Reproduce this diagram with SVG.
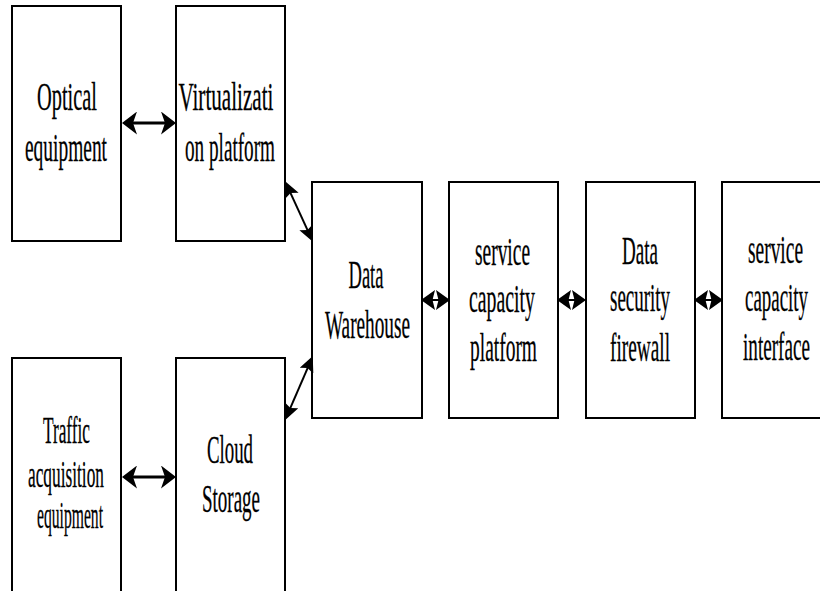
<svg xmlns="http://www.w3.org/2000/svg" width="820" height="591" viewBox="0 0 820 591">
<style>
  .box { fill: #fff; stroke: #000; stroke-width: 2; }
  .t { font-family: 'Liberation Serif', 'DejaVu Serif', 'Times New Roman', serif; font-size: 40px; fill: #000; text-anchor: middle; stroke: #000; stroke-width: 0.3; }
  .dw { font-size: 41px; }
  .bt { font-size: 37px; }
  .lnk { stroke: #000; fill: none; }
  .big { stroke-width: 3; marker-start: url(#ah); marker-end: url(#ah); }
  .sm { stroke-width: 2; marker-start: url(#as); marker-end: url(#as); }
  .dg { stroke-width: 2; marker-start: url(#ad); marker-end: url(#ad); }
</style>
<defs>
  <marker id="ah" viewBox="0 0 15 23" refX="7" refY="11.5" markerWidth="15" markerHeight="23" markerUnits="userSpaceOnUse" orient="auto-start-reverse">
    <path d="M0,0 L15,11.5 L0,23 L4,11.5 z" fill="#000"/>
  </marker>
  <marker id="as" viewBox="0 0 14 20" refX="5" refY="10" markerWidth="14" markerHeight="20" markerUnits="userSpaceOnUse" orient="auto-start-reverse">
    <path d="M0,0 L14,10 L0,20 L2.5,10 z" fill="#000"/>
  </marker>
  <marker id="ad" viewBox="0 0 16 15" refX="6" refY="7.5" markerWidth="16" markerHeight="15" markerUnits="userSpaceOnUse" orient="auto-start-reverse">
    <path d="M0,0 L16,7.5 L0,15 L3,7.5 z" fill="#000"/>
  </marker>
</defs>
<rect width="820" height="591" fill="#fff"/>

<g id="optical-equipment">
  <rect class="box" x="12" y="6" width="109" height="235"/>
  <text class="t" x="67" y="110" textLength="60" lengthAdjust="spacingAndGlyphs">Optical</text>
  <text class="t" x="66" y="161" textLength="82" lengthAdjust="spacingAndGlyphs">equipment</text>
</g>
<g id="virtualization-platform">
  <rect class="box" x="176" y="6" width="109" height="235"/>
  <text class="t" x="226" y="110" textLength="95" lengthAdjust="spacingAndGlyphs">Virtualizati</text>
  <text class="t" x="230" y="161" textLength="90" lengthAdjust="spacingAndGlyphs">on platform</text>
</g>
<g id="data-warehouse">
  <rect class="box" x="312" y="182" width="110" height="236"/>
  <text class="t dw" x="366" y="288" textLength="35" lengthAdjust="spacingAndGlyphs">Data</text>
  <text class="t dw" x="367.5" y="338" textLength="85" lengthAdjust="spacingAndGlyphs">Warehouse</text>
</g>
<g id="service-capacity-platform">
  <rect class="box" x="449" y="182" width="109" height="236"/>
  <text class="t" x="502.5" y="265" textLength="55" lengthAdjust="spacingAndGlyphs">service</text>
  <text class="t" x="502" y="312" textLength="66" lengthAdjust="spacingAndGlyphs">capacity</text>
  <text class="t" x="503.5" y="361" textLength="67" lengthAdjust="spacingAndGlyphs">platform</text>
</g>
<g id="data-security-firewall">
  <rect class="box" x="586" y="182" width="109" height="236"/>
  <text class="t" x="640" y="264" textLength="36" lengthAdjust="spacingAndGlyphs">Data</text>
  <text class="t" x="640" y="311" textLength="60" lengthAdjust="spacingAndGlyphs">security</text>
  <text class="t" x="640" y="361" textLength="60" lengthAdjust="spacingAndGlyphs">firewall</text>
</g>
<g id="service-capacity-interface">
  <rect class="box" x="722" y="182" width="110" height="236"/>
  <text class="t" x="775.5" y="263" textLength="55" lengthAdjust="spacingAndGlyphs">service</text>
  <text class="t" x="776.5" y="311" textLength="63" lengthAdjust="spacingAndGlyphs">capacity</text>
  <text class="t" x="776.5" y="360" textLength="67" lengthAdjust="spacingAndGlyphs">interface</text>
</g>
<g id="traffic-acquisition-equipment">
  <rect class="box" x="12" y="358" width="109" height="240"/>
  <text class="t bt" x="66.5" y="443" textLength="47" lengthAdjust="spacingAndGlyphs">Traffic</text>
  <text class="t bt" x="66" y="487" textLength="76" lengthAdjust="spacingAndGlyphs">acquisition</text>
  <text class="t bt" x="70" y="528" textLength="66" lengthAdjust="spacingAndGlyphs">equipment</text>
</g>
<g id="cloud-storage">
  <rect class="box" x="176" y="358" width="109" height="240"/>
  <text class="t" x="230" y="463" textLength="46" lengthAdjust="spacingAndGlyphs">Cloud</text>
  <text class="t" x="231" y="512" textLength="58" lengthAdjust="spacingAndGlyphs">Storage</text>
</g>

<g id="connectors">
  <line class="lnk big" x1="130" y1="123" x2="168" y2="123"/>
  <line class="lnk big" x1="130" y1="477" x2="168" y2="477"/>
  <line class="lnk dg" x1="289.3" y1="190.3" x2="308.7" y2="232.7"/>
  <line class="lnk dg" x1="308.8" y1="365.3" x2="289.2" y2="410.7"/>
  <line class="lnk sm" x1="430" y1="300" x2="441" y2="300"/>
  <line class="lnk sm" x1="566" y1="300" x2="577" y2="300"/>
  <line class="lnk sm" x1="703" y1="300" x2="714" y2="300"/>
</g>
</svg>
